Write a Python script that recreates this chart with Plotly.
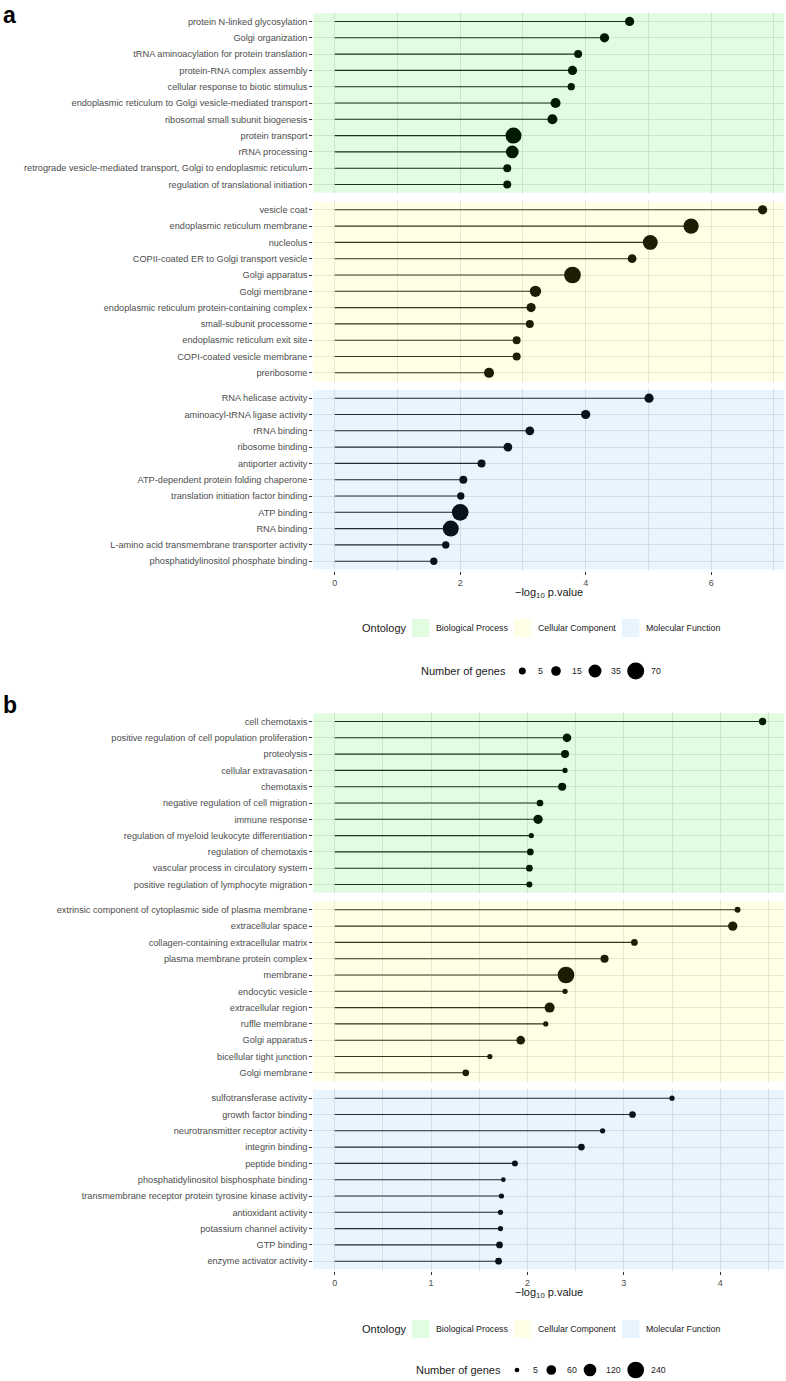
import math
import plotly.graph_objects as go

W, H = 786, 1381
FONT = "Liberation Sans, Arial, Helvetica, sans-serif"

# ---------------- Panel a data ----------------
a_bp_terms = ["protein N-linked glycosylation", "Golgi organization",
              "tRNA aminoacylation for protein translation", "protein-RNA complex assembly",
              "cellular response to biotic stimulus",
              "endoplasmic reticulum to Golgi vesicle-mediated transport",
              "ribosomal small subunit biogenesis", "protein transport", "rRNA processing",
              "retrograde vesicle-mediated transport, Golgi to endoplasmic reticulum",
              "regulation of translational initiation"]
a_bp_logp = [4.70, 4.30, 3.88, 3.79, 3.77, 3.52, 3.47, 2.85, 2.83, 2.75, 2.75]
a_bp_genes = [13, 13, 8, 13, 6, 17, 17, 60, 33, 8, 8]

a_cc_terms = ["vesicle coat", "endoplasmic reticulum membrane", "nucleolus",
              "COPII-coated ER to Golgi transport vesicle", "Golgi apparatus", "Golgi membrane",
              "endoplasmic reticulum protein-containing complex", "small-subunit processome",
              "endoplasmic reticulum exit site", "COPI-coated vesicle membrane", "preribosome"]
a_cc_logp = [6.82, 5.68, 5.03, 4.74, 3.79, 3.20, 3.13, 3.11, 2.90, 2.90, 2.46]
a_cc_genes = [13, 54, 50, 11, 67, 24, 13, 8, 8, 8, 17]

a_mf_terms = ["RNA helicase activity", "aminoacyl-tRNA ligase activity", "rRNA binding",
              "ribosome binding", "antiporter activity", "ATP-dependent protein folding chaperone",
              "translation initiation factor binding", "ATP binding", "RNA binding",
              "L-amino acid transmembrane transporter activity",
              "phosphatidylinositol phosphate binding"]
a_mf_logp = [5.01, 4.00, 3.11, 2.76, 2.34, 2.05, 2.01, 2.00, 1.85, 1.77, 1.58]
a_mf_genes = [13, 13, 11, 11, 8, 8, 6, 67, 60, 6, 6]

a_size_breaks = [5, 15, 35, 70]

# ---------------- Panel b data ----------------
b_bp_terms = ["cell chemotaxis", "positive regulation of cell population proliferation",
              "proteolysis", "cellular extravasation", "chemotaxis",
              "negative regulation of cell migration", "immune response",
              "regulation of myeloid leukocyte differentiation", "regulation of chemotaxis",
              "vascular process in circulatory system",
              "positive regulation of lymphocyte migration"]
b_bp_logp = [4.44, 2.41, 2.39, 2.39, 2.36, 2.13, 2.11, 2.04, 2.03, 2.02, 2.02]
b_bp_genes = [26, 44, 35, 8, 35, 20, 54, 8, 20, 20, 14]

b_cc_terms = ["extrinsic component of cytoplasmic side of plasma membrane", "extracellular space",
              "collagen-containing extracellular matrix", "plasma membrane protein complex",
              "membrane", "endocytic vesicle", "extracellular region", "ruffle membrane",
              "Golgi apparatus", "bicellular tight junction", "Golgi membrane"]
b_cc_logp = [4.18, 4.13, 3.11, 2.80, 2.40, 2.39, 2.23, 2.19, 1.93, 1.61, 1.36]
b_cc_genes = [13, 54, 20, 35, 240, 8, 65, 8, 44, 8, 20]

b_mf_terms = ["sulfotransferase activity", "growth factor binding",
              "neurotransmitter receptor activity", "integrin binding", "peptide binding",
              "phosphatidylinositol bisphosphate binding",
              "transmembrane receptor protein tyrosine kinase activity", "antioxidant activity",
              "potassium channel activity", "GTP binding", "enzyme activator activity"]
b_mf_logp = [3.50, 3.09, 2.78, 2.56, 1.87, 1.75, 1.73, 1.72, 1.72, 1.71, 1.70]
b_mf_genes = [8, 20, 8, 20, 13, 5, 8, 8, 8, 20, 20]

b_size_breaks = [5, 60, 120, 240]

ontology_labels = ["Biological Process", "Cellular Component", "Molecular Function"]

# ---------------- styling ----------------
TINTS = ["rgba(0,229,0,0.115)", "rgba(255,255,40,0.115)", "rgba(50,155,246,0.115)"]
GRID = "#E6E6E6"
TXT = "#4D4D4D"


def size_a(n):
    return 3.35 + 1.63 * math.sqrt(n)


def size_b(n):
    return 2.68 + 0.905 * math.sqrt(n)


def py(p):
    return 1 - p / H


X0, X1 = 313.3 / W, 784.0 / W
PANEL_H = 182.6
panels = {
    "a": dict(tops=[11.7, 200.0, 388.4], dtick=2, minor=1, size=size_a,
              groups=[(a_bp_terms, a_bp_logp, a_bp_genes),
                      (a_cc_terms, a_cc_logp, a_cc_genes),
                      (a_mf_terms, a_mf_logp, a_mf_genes)],
              breaks=a_size_breaks, label_y=0, title_y=593, onto_y=628, size_y=671),
    "b": dict(tops=[711.7, 900.0, 1088.4], dtick=1, minor=0.5, size=size_b,
              groups=[(b_bp_terms, b_bp_logp, b_bp_genes),
                      (b_cc_terms, b_cc_logp, b_cc_genes),
                      (b_mf_terms, b_mf_logp, b_mf_genes)],
              breaks=b_size_breaks, label_y=690, title_y=1293, onto_y=1329, size_y=1370),
}

fig = go.Figure()
layout = {}
shapes = []
annotations = []

idx = 0
for key, P in panels.items():
    vmax = max(max(g[1]) for g in P["groups"])
    xr = [-0.05 * vmax, 1.05 * vmax]
    for gi, (terms, vals, genes) in enumerate(P["groups"]):
        idx += 1
        suf = "" if idx == 1 else str(idx)
        xa, ya = f"x{suf}", f"y{suf}"
        n = len(terms)
        sx, sy = [], []
        for t, v in zip(terms, vals):
            sx += [0, v, None]
            sy += [t, t, None]
        fig.add_trace(go.Scatter(x=sx, y=sy, mode="lines", xaxis=xa, yaxis=ya,
                                 line=dict(color="#1E1E1E", width=1.1),
                                 showlegend=False, hoverinfo="skip"))
        fig.add_trace(go.Scatter(x=vals, y=terms, mode="markers", xaxis=xa, yaxis=ya,
                                 marker=dict(size=[P["size"](g) for g in genes],
                                             color="black", opacity=1, line=dict(width=0)),
                                 showlegend=False))
        top = P["tops"][gi]
        bottom = gi == 2
        layout[f"xaxis{suf}"] = dict(
            domain=[X0, X1], anchor=ya, range=xr, tick0=0, dtick=P["dtick"],
            showgrid=True, gridcolor=GRID, gridwidth=1, zeroline=False, showline=False,
            minor=dict(dtick=P["minor"], tick0=0, showgrid=True, gridcolor=GRID, gridwidth=0.6),
            showticklabels=bottom, ticks="outside" if bottom else "", ticklen=3,
            tickcolor="#333333", tickwidth=1,
            tickfont=dict(family=FONT, size=9, color=TXT), fixedrange=True)
        layout[f"yaxis{suf}"] = dict(
            domain=[py(top + PANEL_H), py(top)], anchor=xa, type="category",
            categoryorder="array", categoryarray=terms, range=[n - 0.4, -0.6],
            showgrid=True, gridcolor=GRID, gridwidth=1, zeroline=False, showline=False,
            ticks="outside", ticklen=3, tickcolor="#333333", tickwidth=1,
            tickfont=dict(family=FONT, size=9.2, color=TXT), fixedrange=True)
        shapes.append(dict(type="rect", xref=f"{xa} domain", yref=ya, x0=0, x1=1,
                           y0=-0.5, y1=n - 0.5, fillcolor=TINTS[gi], line=dict(width=0),
                           layer="above"))

    # panel letter
    annotations.append(dict(text=f"<b>{key}</b>", x=1 / W, y=py(P["label_y"]), xref="paper",
                            yref="paper", xanchor="left", yanchor="top", showarrow=False,
                            font=dict(family=FONT, size=23, color="black")))
    # x-axis title
    annotations.append(dict(text="\u2212log<sub>10</sub> p.value", x=548.5 / W,
                            y=py(P["title_y"]), xref="paper", yref="paper", xanchor="center",
                            yanchor="middle", showarrow=False,
                            font=dict(family=FONT, size=11, color="#1A1A1A")))
    # ontology legend
    oy = P["onto_y"]
    annotations.append(dict(text="Ontology", x=360 / W, y=py(oy), xref="paper", yref="paper",
                            xanchor="left", yanchor="middle", showarrow=False,
                            font=dict(family=FONT, size=11, color="#1A1A1A")))
    key_x = [412, 514, 622]
    for k, lab in enumerate(ontology_labels):
        shapes.append(dict(type="rect", xref="paper", yref="paper", x0=key_x[k] / W,
                           x1=(key_x[k] + 17.5) / W, y0=py(oy + 9), y1=py(oy - 9),
                           fillcolor=TINTS[k], line=dict(width=0), layer="above"))
        annotations.append(dict(text=lab, x=(key_x[k] + 22) / W, y=py(oy), xref="paper",
                                yref="paper", xanchor="left", yanchor="middle", showarrow=False,
                                font=dict(family=FONT, size=8.8, color="#1A1A1A")))
    # size legend
    sy_ = P["size_y"]
    annotations.append(dict(text="Number of genes", x=(508 if key == "a" else 502.5) / W,
                            y=py(sy_), xref="paper", yref="paper", xanchor="right",
                            yanchor="middle", showarrow=False,
                            font=dict(family=FONT, size=11, color="#1A1A1A")))
    dot_x = [522.3, 556, 595, 635.7] if key == "a" else [517, 551.3, 590, 635.7]
    for bx, bv in zip(dot_x, P["breaks"]):
        r = P["size"](bv) / 2
        shapes.append(dict(type="circle", xref="paper", yref="paper", xsizemode="pixel",
                           ysizemode="pixel", xanchor=bx / W, yanchor=py(sy_), x0=-r, x1=r,
                           y0=-r, y1=r, fillcolor="black", line=dict(width=0)))
        annotations.append(dict(text=str(bv), x=(bx + max(r, 8.5) + 5) / W, y=py(sy_),
                                xref="paper", yref="paper", xanchor="left", yanchor="middle",
                                showarrow=False,
                                font=dict(family=FONT, size=8.8, color="#1A1A1A")))

fig.update_layout(width=W, height=H, margin=dict(l=0, r=0, t=0, b=0),
                  paper_bgcolor="white", plot_bgcolor="white",
                  font=dict(family=FONT), shapes=shapes, annotations=annotations,
                  showlegend=False, **layout)
fig.write_html("out.html")
